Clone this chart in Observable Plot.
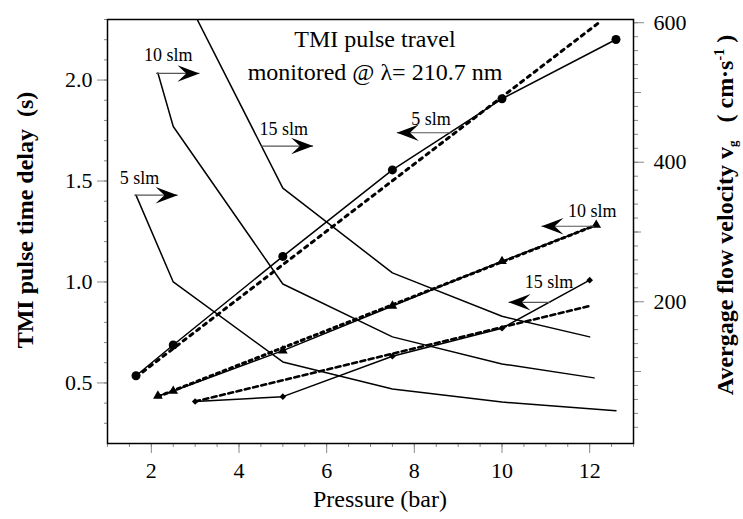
<!DOCTYPE html>
<html><head><meta charset="utf-8">
<script src="https://cdn.jsdelivr.net/npm/d3@7"></script>
<script src="https://cdn.jsdelivr.net/npm/@observablehq/plot@0.6"></script>
<style>body{margin:0;background:#fff}</style>
</head><body><div id="chart"></div>
<script>
// ---- Data (pressure in bar) ----
// TMI pulse time delay (s), left axis
const pressure5 = [1.65, 2.5, 5, 7.5, 10, 12.6];
const delay5 = [1.43, 1.0, 0.604, 0.47, 0.405, 0.362];
const pressure10 = [2.15, 2.5, 5, 7.5, 10, 12.1];
const delay10 = [2.035, 1.77, 0.99, 0.728, 0.594, 0.525];
const pressure15 = [3.0, 5, 7.5, 10, 12];
const delay15 = [2.32, 1.465, 1.045, 0.83, 0.728];
// Average flow velocity (cm/s), right axis
const velP5 = [1.65, 2.5, 5, 7.5, 10, 12.6];
const vel5 = [94, 138, 265, 389, 491, 576];
const velP10 = [2.15, 2.5, 5, 7.5, 10, 12.15];
const vel10 = [65, 72, 130, 194, 258, 310];
const velP15 = [3.0, 5, 7.5, 10, 12];
const vel15 = [57, 64, 122, 162, 231];
// Linear fits (dotted)
const fitP5 = [1.65, 12.25], fit5 = [92, 602];
const fitP10 = [2.15, 12.15], fit10 = [64, 310];
const fitP15 = [3.0, 12.0], fit15 = [57, 194];
// Annotations (data coords: pressure, delay)
const annLabels = ["10 slm", "15 slm", "5 slm", "5 slm", "10 slm", "15 slm"];
const annTextX = [2.385, 5.02, 1.73, 8.38, 12.06, 11.07];
const annTextY = [2.121, 1.757, 1.513, 1.806, 1.348, 0.997];
const annArrowY = [2.033, 1.673, 1.430, 1.739, 1.276, 0.899];
const annFromX = [2.108, 4.51, 1.611, 8.86, 12.10, 11.11];
const annToX = [3.098, 5.69, 2.60, 7.60, 10.90, 10.15];
// Ticks
const xTicks = [2, 4, 6, 8, 10, 12];
const xMinor = d3.range(1, 13.01, 0.5);
const yTicks = [0.5, 1.0, 1.5, 2.0];
const yMinor = d3.range(3, 23.01, 1).map(d => d / 10);
const vTicks = [200, 400, 600];
const vMid = [100, 300, 500];
const vMinor = d3.range(20, 601, 20);

// right axis (velocity) mapped onto the left (delay) scale
const V0 = 0.211, VK = 0.003455;
const toY = v => V0 + v * VK;
const fromY = y => (y - V0) / VK;

const rows = (ps, vs, f = d => d) => ps.map((p, i) => ({p, v: f(vs[i])}));
const D5 = rows(pressure5, delay5), D10 = rows(pressure10, delay10), D15 = rows(pressure15, delay15);
const V5 = rows(velP5, vel5, toY), V10 = rows(velP10, vel10, toY), V15 = rows(velP15, vel15, toY);
const F5 = rows(fitP5, fit5, toY), F10 = rows(fitP10, fit10, toY), F15 = rows(fitP15, fit15, toY);
const ann = annLabels.map((t, i) => ({t, tx: annTextX[i], ty: annTextY[i], ay: annArrowY[i], x1: annFromX[i], x2: annToX[i], right: annToX[i] > annFromX[i]}));

const arrowHead = dir => ({draw(ctx, size) {
  const s = Math.sqrt(size / Math.PI) / 10;
  ctx.moveTo(0, 0);
  ctx.lineTo(-dir * 20 * s, -7.5 * s);
  ctx.lineTo(-dir * 12 * s, 0);
  ctx.lineTo(-dir * 20 * s, 7.5 * s);
  ctx.closePath();
}});

const line = (data, extra = {}) => Plot.line(data, {x: "p", y: "v", stroke: "black", strokeWidth: 1.5, clip: true, ...extra});
const dotted = (data, dash, w) => Plot.line(data, {x: "p", y: "v", stroke: "black", strokeWidth: w, strokeDasharray: dash, clip: true});

const chart = Plot.plot({
  width: 743, height: 519,
  marginLeft: 107, marginRight: 110, marginTop: 19, marginBottom: 76,
  style: {fontFamily: "\"Liberation Serif\", serif", fontSize: "22px", background: "white", color: "black"},
  x: {domain: [1, 13], label: null},
  y: {domain: [0.2, 2.3], label: null},
  marks: [
    // axes
    Plot.axisX(xMinor, {anchor: "bottom", tickSize: 4, stroke: "#888", fill: "none", label: null}),
    Plot.axisX(xTicks, {anchor: "bottom", tickSize: 10, tickPadding: 9, stroke: "#888", label: null}),
    Plot.axisY(yMinor, {anchor: "left", tickSize: 3, stroke: "#888", fill: "none", label: null}),
    Plot.axisY(yTicks, {anchor: "left", tickSize: 10, tickPadding: 5, stroke: "#888", tickFormat: d => d.toFixed(1), label: null}),
    Plot.axisY(vMinor.map(toY), {anchor: "right", tickSize: 4, stroke: "#888", fill: "none", label: null}),
    Plot.axisY(vMid.map(toY), {anchor: "right", tickSize: 7, stroke: "#888", fill: "none", label: null}),
    Plot.axisY(vTicks.map(toY), {anchor: "right", tickSize: 10, tickPadding: 10, stroke: "#888", tickFormat: d => String(Math.round(fromY(d))), label: null}),
    // delay curves
    line(D5), line(D10), line(D15),
    // velocity curves
    line(V5), line(V10), line(V15),
    dotted(F5, "3.5,5", 3), dotted(F10, "3,4", 3), dotted(F15, "5,3.5", 2.6),
    Plot.dot(V5, {x: "p", y: "v", r: 4.5, fill: "black", symbol: "circle"}),
    Plot.dot(V10, {x: "p", y: "v", r: 3.6, fill: "black", symbol: "triangle"}),
    Plot.dot(V15, {x: "p", y: "v", r: 3, fill: "black", symbol: "diamond2"}),
    // annotations
    Plot.link(ann, {x1: "x1", x2: "x2", y1: "ay", y2: "ay", stroke: "#555", strokeWidth: 1.2}),
    Plot.dot(ann.filter(d => d.right), {x: "x2", y: "ay", r: 11, fill: "black", symbol: arrowHead(1)}),
    Plot.dot(ann.filter(d => !d.right), {x: "x2", y: "ay", r: 11, fill: "black", symbol: arrowHead(-1)}),
    Plot.text(ann, {x: "tx", y: "ty", text: "t", fontSize: 18, fill: "black"}),
    Plot.frame({stroke: "black", strokeWidth: 1.5})
  ]
});
document.getElementById("chart").appendChild(chart);

// titles and axis labels
const svg = d3.select(chart);
const serif = "\"Liberation Serif\", serif";
svg.append("text").attr("x", 375).attr("y", 47).attr("text-anchor", "middle")
  .style("font-family", serif).style("font-size", "24px").text("TMI pulse travel");
svg.append("text").attr("x", 375).attr("y", 80).attr("text-anchor", "middle")
  .style("font-family", serif).style("font-size", "24px").text("monitored @ λ= 210.7 nm");
svg.append("text").attr("x", 380).attr("y", 507).attr("text-anchor", "middle")
  .style("font-family", serif).style("font-size", "24px").text("Pressure (bar)");
svg.append("text").attr("transform", "translate(33,220) rotate(-90)").attr("text-anchor", "middle")
  .style("font-family", serif).style("font-size", "24px").style("font-weight", "bold")
  .text("TMI pulse time delay  (s)");
const rt = svg.append("text").attr("transform", "translate(733,215) rotate(-90)").attr("text-anchor", "middle")
  .style("font-family", serif).style("font-size", "24px").style("font-weight", "bold")
  .attr("xml:space", "preserve").style("white-space", "pre");
rt.append("tspan").text("Avergage flow velocity v");
rt.append("tspan").attr("dy", 4).style("font-size", "13px").text("g");
rt.append("tspan").attr("dy", -4).text("   ( cm·s");
rt.append("tspan").attr("dy", -9).style("font-size", "14px").text("-1");
rt.append("tspan").attr("dy", 9).text(" )");
</script>
</body></html>
